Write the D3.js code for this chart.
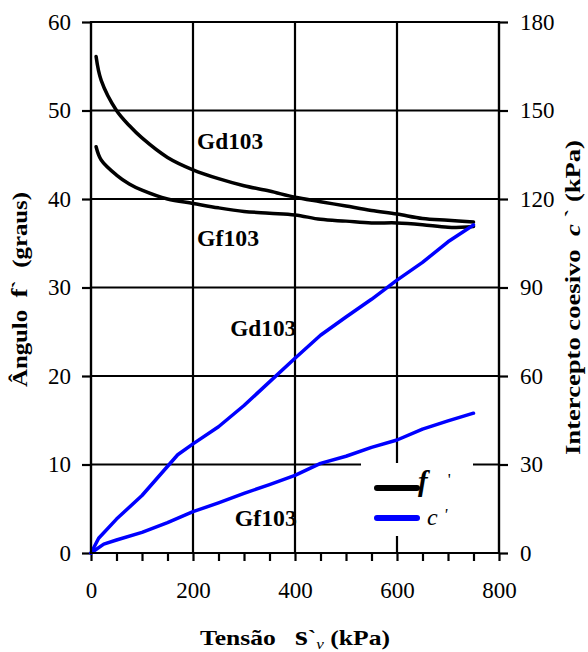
<!DOCTYPE html>
<html>
<head>
<meta charset="utf-8">
<script src="https://cdn.jsdelivr.net/npm/d3@7"></script>
</head>
<body style="margin:0">
<svg id="chart" width="588" height="652" font-family="Liberation Serif"></svg>
<script>
// Stress (kPa) at which the friction angle was evaluated
const phiStress = [10, 20, 50, 75, 100, 150, 200, 250, 300, 350, 400, 450, 500, 550, 600, 650, 700, 750];
// Friction angle phi' (degrees)
const phiGd103 = [56.1, 53.4, 50.0, 48.3, 46.9, 44.7, 43.3, 42.3, 41.5, 40.9, 40.2, 39.7, 39.2, 38.7, 38.3, 37.8, 37.6, 37.4];
const phiGf103 = [45.9, 44.4, 42.7, 41.7, 41.0, 40.0, 39.5, 39.0, 38.6, 38.4, 38.2, 37.7, 37.5, 37.3, 37.3, 37.1, 36.8, 36.9];

// Stress (kPa) for the cohesion intercept
const cStressGd = [0, 15, 50, 100, 170, 200, 250, 300, 350, 400, 450, 500, 550, 600, 650, 700, 750];
const cGd103 = [0, 5.0, 11.5, 19.5, 33.3, 37.0, 42.8, 50.0, 58.0, 66.0, 73.8, 80.0, 86.0, 92.5, 98.5, 105.5, 111.2];
const cStressGf = [0, 25, 50, 100, 150, 200, 250, 300, 350, 400, 450, 500, 550, 600, 650, 700, 750];
const cGf103 = [0, 3.0, 4.4, 7.0, 10.3, 14.0, 17.0, 20.2, 23.2, 26.3, 30.4, 32.8, 35.8, 38.3, 42.0, 44.8, 47.4];

// Tick values
const xTicks = [0, 200, 400, 600, 800];
const xMinorTicks = [50, 100, 150, 250, 300, 350, 450, 500, 550, 650, 700, 750];
const leftTicks = [0, 10, 20, 30, 40, 50, 60];
const rightTicks = [0, 30, 60, 90, 120, 150, 180];

const svg = d3.select("#chart");
const L = 91, R = 499, T = 22, B = 553;

const x = d3.scaleLinear().domain([0, 800]).range([L, R]);
const yL = d3.scaleLinear().domain([0, 60]).range([B, T]);
const yR = d3.scaleLinear().domain([0, 180]).range([B, T]);

// grid
const grid = svg.append("g").attr("stroke", "#000").attr("stroke-width", 2.2);
leftTicks.forEach(v => {
  grid.append("line").attr("x1", L).attr("x2", R).attr("y1", yL(v)).attr("y2", yL(v));
});
xTicks.forEach(v => {
  grid.append("line").attr("x1", x(v)).attr("x2", x(v)).attr("y1", T).attr("y2", B);
});

// axes
const axLeft = svg.append("g").attr("transform", `translate(${L},0)`)
  .call(d3.axisLeft(yL).tickValues(leftTicks).tickSize(9).tickPadding(11).tickFormat(d3.format("d")));
const axRight = svg.append("g").attr("transform", `translate(${R},0)`)
  .call(d3.axisRight(yR).tickValues(rightTicks).tickSize(9).tickPadding(12).tickFormat(d3.format("d")));
const axBottom = svg.append("g").attr("transform", `translate(0,${B})`)
  .call(d3.axisBottom(x).tickValues(xTicks).tickSize(8).tickPadding(21).tickFormat(d3.format("d")));
const axMinor = svg.append("g").attr("transform", `translate(0,${B})`)
  .call(d3.axisBottom(x).tickValues(xMinorTicks).tickSize(8).tickFormat(""));

[axLeft, axRight, axBottom, axMinor].forEach(g => {
  g.attr("font-family", "Liberation Serif").attr("font-size", 23);
  g.select(".domain").remove();
  g.selectAll("line").attr("stroke", "#000").attr("stroke-width", 2.2);
  g.selectAll("text").attr("fill", "#000");
});

// legend background (covers the grid)
svg.append("rect").attr("x", 361).attr("y", 463).attr("width", 112).attr("height", 73).attr("fill", "#fff");

// curves
const smooth = d3.line().curve(d3.curveCatmullRom.alpha(0.5));
const straight = d3.line();

const phiPts = arr => phiStress.map((s, i) => [x(s), yL(arr[i])]);
svg.append("path").attr("d", smooth(phiPts(phiGd103)))
  .attr("fill", "none").attr("stroke", "#000").attr("stroke-width", 3.5).attr("stroke-linecap", "round");
svg.append("path").attr("d", smooth(phiPts(phiGf103)))
  .attr("fill", "none").attr("stroke", "#000").attr("stroke-width", 3.5).attr("stroke-linecap", "round");

svg.append("path").attr("d", straight(cStressGd.map((s, i) => [x(s), yR(cGd103[i])])))
  .attr("fill", "none").attr("stroke", "#0000ff").attr("stroke-width", 3.5).attr("stroke-linecap", "round").attr("stroke-linejoin", "round");
svg.append("path").attr("d", straight(cStressGf.map((s, i) => [x(s), yR(cGf103[i])])))
  .attr("fill", "none").attr("stroke", "#0000ff").attr("stroke-width", 3.5).attr("stroke-linecap", "round").attr("stroke-linejoin", "round");

// frame edges
const frame = svg.append("g").attr("stroke", "#000").attr("stroke-width", 2.2);
frame.append("line").attr("x1", L).attr("x2", L).attr("y1", T - 1).attr("y2", B + 1);
frame.append("line").attr("x1", R).attr("x2", R).attr("y1", T - 1).attr("y2", B + 1);
frame.append("line").attr("x1", L).attr("x2", R).attr("y1", B).attr("y2", B);
frame.append("line").attr("x1", L).attr("x2", R).attr("y1", T).attr("y2", T);

// series labels
const lab = (txt, xv, yv) => svg.append("text").attr("x", xv).attr("y", yv)
  .attr("font-size", 22.5).attr("font-weight", "bold")
  .attr("textLength", 66).attr("lengthAdjust", "spacingAndGlyphs").text(txt);
lab("Gd103", x(208), yL(45.6));
lab("Gf103", x(208), yL(34.7)).attr("textLength", 62);
lab("Gd103", x(273), yR(73.6));
lab("Gf103", x(282), yR(9.2)).attr("textLength", 62);

// legend
svg.append("line").attr("x1", 377).attr("x2", 417).attr("y1", 488).attr("y2", 488)
  .attr("stroke", "#000").attr("stroke-width", 6).attr("stroke-linecap", "round");
svg.append("line").attr("x1", 377).attr("x2", 417).attr("y1", 518).attr("y2", 518)
  .attr("stroke", "#0000ff").attr("stroke-width", 6).attr("stroke-linecap", "round");
const lg1 = svg.append("text").attr("x", 418).attr("y", 491).attr("font-size", 29);
lg1.append("tspan").attr("font-weight", "bold").attr("font-style", "italic").text("f");
lg1.append("tspan").attr("font-size", 17).attr("dx", 20).attr("dy", -6).text("'");
const lg2 = svg.append("text").attr("x", 427).attr("y", 525).attr("font-size", 24).attr("font-style", "italic");
lg2.append("tspan").text("c");
lg2.append("tspan").attr("font-size", 17).attr("dx", 6).attr("dy", -5).text("'");

// axis titles
const tb = svg.append("text").attr("x", (L + R) / 2).attr("y", 645)
  .attr("text-anchor", "middle").attr("font-size", 21).attr("font-weight", "bold")
  .attr("textLength", 190).attr("lengthAdjust", "spacingAndGlyphs");
tb.append("tspan").text("Tensão\u00a0\u00a0\u00a0");
tb.append("tspan").attr("font-size", 27).text("s");
tb.append("tspan").text("`");
tb.append("tspan").attr("font-style", "italic").attr("font-weight", "normal").attr("font-size", 14).attr("dy", 4).text("v");
tb.append("tspan").attr("dy", -4).text(" (kPa)");

const tl = svg.append("text").attr("transform", `translate(27,${(T + B) / 2 + 2}) rotate(-90)`)
  .attr("text-anchor", "middle").attr("font-size", 21).attr("font-weight", "bold")
  .attr("textLength", 195).attr("lengthAdjust", "spacingAndGlyphs");
tl.append("tspan").text("Ângulo\u00a0\u00a0");
tl.append("tspan").attr("font-size", 23).text("f");
tl.append("tspan").text("`\u00a0\u00a0(graus)");

const tr = svg.append("text").attr("transform", `translate(580,${(T + B) / 2 + 10}) rotate(-90)`)
  .attr("text-anchor", "middle").attr("font-size", 21).attr("font-weight", "bold")
  .attr("textLength", 315).attr("lengthAdjust", "spacingAndGlyphs");
tr.append("tspan").text("Intercepto coesivo\u00a0\u00a0");
tr.append("tspan").attr("font-style", "italic").text("c");
tr.append("tspan").text("\u00a0`\u00a0(kPa)");

// serif face on every text element
svg.selectAll("text").attr("font-family", "Liberation Serif").style("font-family", "Liberation Serif");
</script>
</body>
</html>
